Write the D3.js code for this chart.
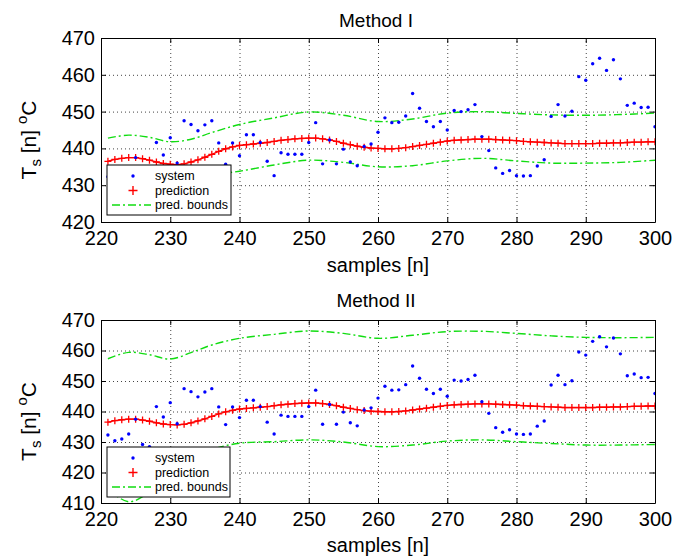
<!DOCTYPE html>
<html>
<head>
<meta charset="utf-8">
<script src="https://cdn.jsdelivr.net/npm/d3@7"></script>
<style>
    body { margin: 0; background: #fff; }
    svg text { font-family: "Liberation Sans", Arial, sans-serif; fill: #000; }
    .grid line { stroke: #444; stroke-dasharray: 1, 3; }
    .grid path { display: none; }
    .frame path, .frame line { stroke: #000; }
</style>
</head>
<body>
<svg id="chart" width="690" height="558"></svg>
<script>
    // samples start at n = 221, one value per sample up to 300
    const firstSample = 221;
    const xTicks = [220, 230, 240, 250, 260, 270, 280, 290, 300];
    const yTicksI = [420, 430, 440, 450, 460, 470];
    const yTicksII = [410, 420, 430, 440, 450, 460, 470];
    const titles = ["Method I", "Method II"];
    const legendLabels = ["system", "prediction", "pred. bounds"];

    const systemTemp = [
        432.3, 430.4, 431.0, 432.6, 437.5, 429.2, 428.5, 441.6, 438.2, 442.9,
        436.0, 447.5, 446.5, 444.8, 446.4, 447.5, 441.5, 435.7, 441.5, 438.0,
        443.7, 443.7, 441.6, 436.5, 432.6, 438.8, 438.4, 438.4, 438.4, 441.6,
        447.0, 435.8, 442.3, 435.8, 439.8, 436.3, 435.3, 440.5, 441.2, 444.4,
        448.3, 447.0, 447.1, 448.8, 454.9, 450.9, 447.3, 445.9, 447.3, 445.0,
        450.3, 450.0, 450.5, 451.9, 443.2, 439.4, 434.7, 433.2, 434.0, 432.6,
        432.5, 432.6, 435.2, 436.9, 448.7, 451.9, 448.8, 450.1, 459.5, 458.5,
        463.0, 464.5, 461.2, 464.1, 458.9, 451.7, 452.3, 451.1, 451.2, 445.9
    ];
    const predicted = [
        436.5, 437.0, 437.3, 437.5, 437.5, 437.2, 436.8, 436.3, 435.9, 435.7,
        435.6, 435.8, 436.3, 436.9, 437.6, 438.4, 439.2, 439.9, 440.4, 440.8,
        441.0, 441.2, 441.4, 441.6, 441.9, 442.2, 442.4, 442.6, 442.7, 442.8,
        442.8, 442.6, 442.3, 441.9, 441.4, 441.0, 440.6, 440.3, 440.1, 440.0,
        439.9, 439.9, 440.0, 440.2, 440.5, 440.8, 441.1, 441.4, 441.7, 442.0,
        442.2, 442.3, 442.4, 442.5, 442.5, 442.5, 442.4, 442.3, 442.2, 442.1,
        441.9, 441.8, 441.7, 441.6, 441.5, 441.4, 441.3, 441.3, 441.3, 441.3,
        441.3, 441.4, 441.4, 441.5, 441.5, 441.6, 441.7, 441.7, 441.8, 441.8
    ];

    const boundSamples = [221, 224, 227, 230, 233, 236, 240, 245, 250, 255, 260, 265, 270, 275, 280, 285, 290, 295, 300];
    const upperI = [442.8, 443.6, 443.0, 441.8, 442.5, 444.3, 446.5, 448.3, 449.9, 449.0, 447.3, 448.0, 449.6, 450.0, 449.5, 449.1, 449.0, 449.2, 449.6];
    const lowerI = [430.8, 430.5, 431.0, 431.8, 432.0, 432.8, 433.8, 435.5, 436.8, 436.2, 435.0, 435.3, 436.6, 437.3, 436.6, 436.0, 436.0, 436.2, 436.8];
    const upperII = [457.3, 459.4, 458.6, 457.2, 459.3, 461.8, 464.0, 465.3, 466.4, 465.6, 464.0, 465.0, 466.2, 466.3, 465.6, 464.8, 464.3, 464.2, 464.3];
    const lowerII = [414.5, 410.4, 413.5, 419.0, 424.0, 427.5, 429.6, 430.1, 430.7, 430.0, 428.5, 429.0, 430.3, 430.7, 430.1, 429.5, 429.0, 429.0, 429.2];

    const colors = { system: "#0000ff", prediction: "#ff0000", bounds: "#11dd11" };
    const plusPath = "M-3.5,0H3.5M0,-3.5V3.5";
    const dashDot = "8,3,2,3";

    const svg = d3.select("#chart");

    function getConfig(index) {
        let base = {
            left: 101,
            right: 655,
            fontSize: 20
        };
        if (index === 0) {
            return Object.assign(base, { top: 38, bottom: 222, yTicks: yTicksI, upper: upperI, lower: lowerI,
                titleY: 27, tickY: 9, labelY: 272, legend: { x: 107, y: 165, w: 124, h: 50 } });
        }
        return Object.assign(base, { top: 320, bottom: 503, yTicks: yTicksII, upper: upperII, lower: lowerII,
            titleY: 307, tickY: 9, labelY: 552, legend: { x: 107, y: 447, w: 123, h: 50 } });
    }

    function drawPanel(index) {
        let config = getConfig(index);
        let { left, right, top, bottom, yTicks, upper, lower } = config;
        let width = right - left;
        let height = bottom - top;

        let xScale = d3.scaleLinear().domain([xTicks[0], xTicks[xTicks.length - 1]]).range([left, right]);
        let yScale = d3.scaleLinear().domain([yTicks[0], yTicks[yTicks.length - 1]]).range([bottom, top]);

        let g = svg.append("g");
        let clipId = "clip" + index;
        g.append("clipPath").attr("id", clipId)
            .append("rect").attr("x", left).attr("y", top).attr("width", width).attr("height", height);

        // dotted grid
        g.append("g").attr("class", "grid")
            .attr("transform", "translate(0," + bottom + ")")
            .call(d3.axisBottom(xScale).tickValues(xTicks.slice(1, -1)).tickSize(-height).tickFormat(""));
        g.append("g").attr("class", "grid")
            .attr("transform", "translate(" + left + ",0)")
            .call(d3.axisLeft(yScale).tickValues(yTicks.slice(1, -1)).tickSize(-width).tickFormat(""));

        let plot = g.append("g").attr("clip-path", "url(#" + clipId + ")");

        // prediction bounds
        let boundLine = d3.line()
            .x((d, i) => xScale(boundSamples[i]))
            .y(d => yScale(d))
            .curve(d3.curveCatmullRom.alpha(0.5));
        [upper, lower].forEach(b => {
            plot.append("path")
                .attr("d", boundLine(b))
                .attr("fill", "none")
                .attr("stroke", colors.bounds)
                .attr("stroke-width", 1.4)
                .attr("stroke-dasharray", dashDot);
        });

        // prediction line with + markers
        let predLine = d3.line()
            .x((d, i) => xScale(firstSample + i))
            .y(d => yScale(d));
        plot.append("path")
            .attr("d", predLine(predicted))
            .attr("fill", "none")
            .attr("stroke", colors.prediction)
            .attr("stroke-width", 1.4);
        plot.selectAll(".plus")
            .data(predicted)
            .enter()
            .append("path")
            .attr("class", "plus")
            .attr("transform", (d, i) => "translate(" + xScale(firstSample + i) + "," + yScale(d) + ")")
            .attr("d", plusPath)
            .attr("stroke", colors.prediction)
            .attr("stroke-width", 1.3);

        // system samples
        plot.selectAll("circle")
            .data(systemTemp)
            .enter()
            .append("circle")
            .attr("cx", (d, i) => xScale(firstSample + i))
            .attr("cy", d => yScale(d))
            .attr("r", 1.7)
            .attr("fill", colors.system);

        // axes box with inward ticks
        let axisB = g.append("g").attr("class", "frame")
            .attr("transform", "translate(0," + bottom + ")")
            .call(d3.axisBottom(xScale).tickValues(xTicks).tickSizeInner(-5).tickSizeOuter(0).tickPadding(config.tickY));
        g.append("g").attr("class", "frame")
            .attr("transform", "translate(0," + top + ")")
            .call(d3.axisTop(xScale).tickValues(xTicks).tickSizeInner(-5).tickSizeOuter(0).tickFormat(""));
        let axisL = g.append("g").attr("class", "frame")
            .attr("transform", "translate(" + left + ",0)")
            .call(d3.axisLeft(yScale).tickValues(yTicks).tickSizeInner(-5).tickSizeOuter(0).tickPadding(6));
        g.append("g").attr("class", "frame")
            .attr("transform", "translate(" + right + ",0)")
            .call(d3.axisRight(yScale).tickValues(yTicks).tickSizeInner(-5).tickSizeOuter(0).tickFormat(""));
        g.selectAll(".frame text")
            .style("font-family", "'Liberation Sans', Arial, sans-serif")
            .style("font-size", config.fontSize + "px");
        g.selectAll(".frame .domain").attr("stroke-width", 1);

        // title and labels
        let midX = (left + right) / 2;
        g.append("text")
            .attr("x", midX - 2)
            .attr("y", config.titleY)
            .attr("text-anchor", "middle")
            .style("font-size", "19px")
            .text(titles[index]);
        g.append("text")
            .attr("x", midX)
            .attr("y", config.labelY)
            .attr("text-anchor", "middle")
            .style("font-size", "20px")
            .text("samples [n]");

        let yl = g.append("text")
            .attr("transform", "translate(36," + ((top + bottom) / 2 + 10) + ") rotate(-90)")
            .attr("text-anchor", "middle")
            .style("font-size", "21px");
        yl.append("tspan").text("T");
        yl.append("tspan").attr("dy", 5).style("font-size", "15px").text("s");
        yl.append("tspan").attr("dy", -5).text(" [n] ");
        yl.append("tspan").attr("dy", -9).style("font-size", "15px").text("o");
        yl.append("tspan").attr("dy", 9).text("C");

        drawLegend(g, config.legend);
    }

    function drawLegend(g, box) {
        let lg = g.append("g").attr("transform", "translate(" + box.x + "," + box.y + ")");
        lg.append("rect")
            .attr("width", box.w)
            .attr("height", box.h)
            .attr("fill", "#fff")
            .attr("stroke", "#000")
            .attr("stroke-width", 1);
        let rowY = d3.scalePoint().domain(legendLabels).range([11, 40]);
        let symX = 26;
        lg.append("circle")
            .attr("cx", symX)
            .attr("cy", rowY("system"))
            .attr("r", 1.7)
            .attr("fill", colors.system);
        lg.append("path")
            .attr("transform", "translate(" + symX + "," + rowY("prediction") + ")")
            .attr("d", "M-4.5,0H4.5M0,-4.5V4.5")
            .attr("stroke", colors.prediction)
            .attr("stroke-width", 1.4);
        lg.append("line")
            .attr("x1", 5).attr("x2", 44)
            .attr("y1", rowY("pred. bounds")).attr("y2", rowY("pred. bounds"))
            .attr("stroke", colors.bounds)
            .attr("stroke-width", 1.4)
            .attr("stroke-dasharray", dashDot);
        lg.selectAll(".ltext")
            .data(legendLabels)
            .enter()
            .append("text")
            .attr("class", "ltext")
            .attr("x", 48)
            .attr("y", d => rowY(d) + 4)
            .style("font-size", "12.5px")
            .text(d => d);
    }

    titles.forEach((t, i) => drawPanel(i));
</script>
</body>
</html>
